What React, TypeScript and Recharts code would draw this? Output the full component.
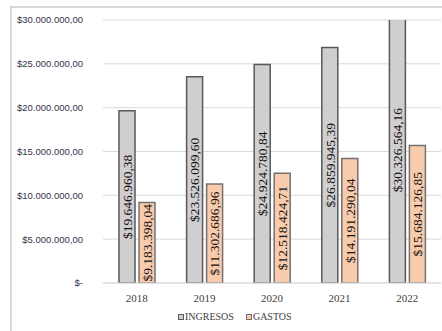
import React from "react"
import { Bar, BarChart, XAxis, YAxis, CartesianGrid, LabelList } from "recharts"

const years = ["2018", "2019", "2020", "2021", "2022"]
const ingresos = [19646960.38, 23526099.6, 24924780.84, 26859945.39, 30326564.16]
const gastos = [9183398.04, 11302686.96, 12518424.71, 14191290.04, 15684126.85]
const yTicks = [0, 5000000, 10000000, 15000000, 20000000, 25000000, 30000000]

const data = years.map((y, i) => ({ year: y, ingresos: ingresos[i], gastos: gastos[i] }))

// formato es: $19.646.960,38
const money = (v: number) => {
    const [ent, dec] = v.toFixed(2).split(".")
    return "$" + ent.replace(/\B(?=(\d{3})+(?!\d))/g, ".") + "," + dec
}

const serif = "'Liberation Serif', 'Times New Roman', serif"

const legendItems = [
    { label: "INGRESOS", fill: "#d0cece", stroke: "#595959" },
    { label: "GASTOS", fill: "#f8cbad", stroke: "#767171" },
]

function LegendBox() {
    return (
        <div style={{ position: "absolute", left: 178, top: 310, display: "flex", gap: 12, fontFamily: serif, fontSize: 10, lineHeight: "14px", color: "#404040" }}>
            {legendItems.map((it) => (
                <div key={it.label} style={{ display: "flex", alignItems: "center" }}>
                    <span style={{ width: 4, height: 4, background: it.fill, border: `1px solid ${it.stroke}`, marginRight: 1 }} />
                    {it.label}
                </div>
            ))}
        </div>
    )
}

export default function App() {
    return (
        <div style={{ position: "absolute", left: 0, top: 0, width: 442, height: 331, background: "#fff", overflow: "hidden" }}>
            <div style={{ position: "absolute", left: 10, top: 6, width: 440, height: 340, borderLeft: "2px solid #d9d9d9", borderTop: "2px solid #d9d9d9" }} />
            <div style={{ position: "absolute", left: 0, top: 0 }}>
                <BarChart
                    width={442}
                    height={331}
                    data={data}
                    margin={{ top: 20, right: 1, left: 0, bottom: 20 }}
                    barSize={16}
                    barGap={4}
                >
                    <CartesianGrid horizontal={true} vertical={false} stroke="#d9d9d9" />
                    <XAxis
                        dataKey="year"
                        axisLine={{ stroke: "#d9d9d9" }}
                        tickLine={false}
                        tickMargin={5}
                        height={28}
                        tick={{ fill: "#404040", fontSize: 11, fontFamily: serif }}
                    />
                    <YAxis
                        width={103}
                        domain={[0, 30000000]}
                        ticks={yTicks}
                        allowDataOverflow
                        axisLine={false}
                        tickLine={false}
                        tickSize={0}
                        tickMargin={20}
                        tickFormatter={(v: number) => (v === 0 ? "$-" : money(v))}
                        tick={{ fill: "#33334a", fontSize: 9.5, fontFamily: "'Liberation Sans', Arial, sans-serif" }}
                    />
                    <Bar dataKey="ingresos" fill="#d0cece" stroke="#595959" strokeWidth={1.5} isAnimationActive={false}>
                        <LabelList
                            dataKey="ingresos"
                            position="center"
                            angle={-90}
                            formatter={(v: any) => money(Number(v))}
                            style={{ fill: "#111", fontSize: 13.5, fontFamily: serif }}
                        />
                    </Bar>
                    <Bar dataKey="gastos" fill="#f8cbad" stroke="#767171" strokeWidth={1.5} isAnimationActive={false}>
                        <LabelList
                            dataKey="gastos"
                            position="center"
                            angle={-90}
                            formatter={(v: any) => money(Number(v))}
                            style={{ fill: "#111", fontSize: 13.5, fontFamily: serif }}
                        />
                    </Bar>
                </BarChart>
            </div>
            <LegendBox />
        </div>
    )
}
